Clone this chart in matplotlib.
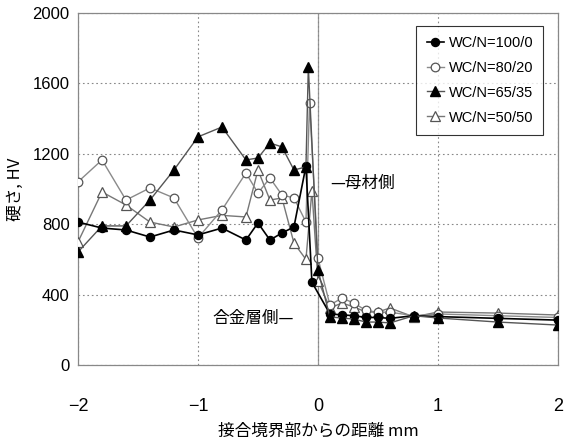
import matplotlib
matplotlib.use("Agg")
import matplotlib.pyplot as plt

# ---- data ----
x_100_0 = [-2, -1.8, -1.6, -1.4, -1.2, -1.0, -0.8, -0.6, -0.5, -0.4, -0.3, -0.2, -0.1, -0.05,
           0.1, 0.2, 0.3, 0.4, 0.5, 0.6, 0.8, 1.0, 1.5, 2.0]
y_100_0 = [812, 778, 767, 727, 767, 739, 778, 710, 807, 710, 750, 784, 1130, 470,
           290, 285, 280, 270, 270, 265, 280, 275, 265, 255]

x_80_20 = [-2, -1.8, -1.6, -1.4, -1.2, -1.0, -0.8, -0.6, -0.5, -0.4, -0.3, -0.2, -0.1, -0.07, 0,
           0.1, 0.2, 0.3, 0.4, 0.5, 0.6, 0.8, 1.0, 1.5, 2.0]
y_80_20 = [1040, 1165, 937, 1006, 949, 722, 881, 1091, 977, 1062, 966, 949, 812, 1489, 608,
           341, 380, 352, 310, 300, 300, 280, 290, 280, 270]

x_65_35 = [-2, -1.8, -1.6, -1.4, -1.2, -1.0, -0.8, -0.6, -0.5, -0.4, -0.3, -0.2, -0.1, -0.08, 0,
           0.1, 0.2, 0.3, 0.4, 0.5, 0.6, 0.8, 1.0, 1.5, 2.0]
y_65_35 = [642, 790, 790, 937, 1108, 1296, 1352, 1165, 1176, 1261, 1239, 1108, 1125, 1693, 540,
           273, 267, 261, 244, 244, 239, 280, 267, 244, 227]

x_50_50 = [-2, -1.8, -1.6, -1.4, -1.2, -1.0, -0.8, -0.6, -0.5, -0.4, -0.3, -0.2, -0.1, -0.05, 0,
           0.1, 0.2, 0.3, 0.4, 0.5, 0.6, 0.8, 1.0, 1.5, 2.0]
y_50_50 = [699, 983, 909, 812, 784, 824, 850, 841, 1108, 937, 949, 693, 600, 990, 480,
           324, 352, 330, 301, 301, 324, 273, 301, 295, 284]

labels = ["WC/N=100/0", "WC/N=80/20", "WC/N=65/35", "WC/N=50/50"]
x_ticks = [-2, -1, 0, 1, 2]
y_ticks = [0, 400, 800, 1200, 1600, 2000]

JP = ["Noto Sans CJK JP", "DejaVu Sans"]
NUM = ["Liberation Sans Narrow", "Liberation Sans", "DejaVu Sans"]

fig = plt.figure(figsize=(5.71, 4.46), dpi=100)
ax = fig.add_axes([0.1366, 0.1816, 0.8404, 0.7894])

ax.plot(x_100_0, y_100_0, color="black", lw=1.2, marker="o", ms=5.8,
        mfc="black", mec="black", label=labels[0], zorder=5)
ax.plot(x_80_20, y_80_20, color="#8a8a8a", lw=1.0, marker="o", ms=6.2,
        mfc="white", mec="#555555", mew=0.9, label=labels[1], zorder=4)
ax.plot(x_65_35, y_65_35, color="#555555", lw=1.0, marker="^", ms=6.8,
        mfc="black", mec="black", label=labels[2], zorder=6)
ax.plot(x_50_50, y_50_50, color="#777777", lw=1.0, marker="^", ms=6.8,
        mfc="white", mec="#555555", mew=0.9, label=labels[3], zorder=3)

ax.set_xlim(-2, 2)
ax.set_ylim(0, 2000)
ax.set_xticks(x_ticks)
ax.set_yticks(y_ticks)
ax.set_xticklabels(["\u22122", "\u22121", "0", "1", "2"], fontfamily=NUM, fontsize=13)
ax.set_yticklabels([str(v) for v in y_ticks], fontfamily=NUM, fontsize=12)
ax.tick_params(axis="x", length=0, pad=24)
ax.tick_params(axis="y", length=0, pad=6)

ax.grid(True, ls=(0, (1.5, 2.5)), color="#888888", lw=0.8)
ax.axvline(0, color="#999999", lw=0.9, zorder=1)
for s in ax.spines.values():
    s.set_color("#888888")
    s.set_linewidth(0.9)

ax.set_xlabel("接合境界部からの距離 mm", fontfamily=JP, fontsize=12, labelpad=5)
ax.set_ylabel("硬さ, HV", fontfamily=JP, fontsize=12, labelpad=6)

ax.text(0.1, 1030, "—母材側", fontfamily=JP, fontsize=12, va="center", ha="left")
ax.text(-0.88, 267, "合金層側—", fontfamily=JP, fontsize=12, va="center", ha="left")

leg = ax.legend(loc="upper right", bbox_to_anchor=(0.985, 0.985), frameon=True,
                fancybox=False, edgecolor="black", prop={"family": NUM, "size": 10.5},
                handlelength=1.2, handletextpad=0.3, labelspacing=0.75, borderpad=0.7)
leg.get_frame().set_linewidth(0.8)

fig.savefig("out.png", dpi=100, facecolor="white")
